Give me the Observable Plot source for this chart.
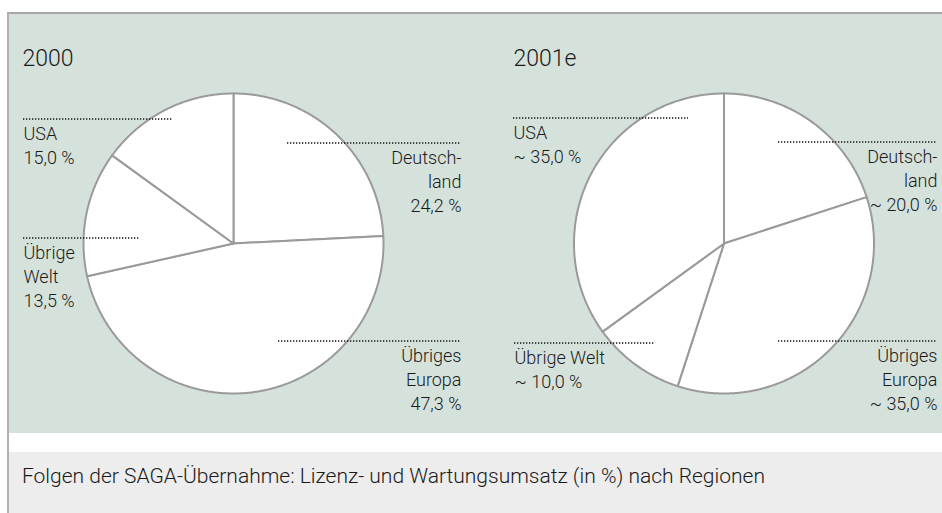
<!DOCTYPE html>
<html><head><meta charset="utf-8">
<script src="https://cdn.jsdelivr.net/npm/d3@7"></script>
<script src="https://cdn.jsdelivr.net/npm/@observablehq/plot@0.6"></script>
<style>
body{margin:0;background:#fff;}
#wrap{position:relative;width:942px;height:513px;overflow:hidden;font-family:Roboto,"Noto Sans",sans-serif;}
#panel{position:absolute;left:9px;top:14px;width:933px;height:419px;background:#d5e2dc;}
#topline{position:absolute;left:7px;top:12px;width:935px;height:2px;background:#a6a6a6;}
#leftline{position:absolute;left:7px;top:12px;width:2px;height:501px;background:#b0b0b0;}
#capbox{position:absolute;left:9px;top:452px;width:933px;height:61px;background:#ededed;}
#caption{position:absolute;left:22px;top:464px;font-size:21px;font-weight:300;line-height:24px;color:#1a1a1a;white-space:nowrap;}
#chart{position:absolute;left:0;top:0;}
</style></head>
<body>
<div id="wrap">
  <div id="panel"></div>
  <div id="topline"></div>
  <div id="leftline"></div>
  <div id="capbox"></div>
  <div id="caption"></div>
  <div id="chart"></div>
</div>
<script>
// ---- data ----
const regions = ["Deutschland", "Übriges Europa", "Übrige Welt", "USA"];
const years = ["2000", "2001e"];
const share2000 = [24.2, 47.3, 13.5, 15.0];
const share2001e = [20.0, 35.0, 10.0, 35.0];
const estimated = [false, true];
const labels2000 = ["Deutsch-\nland", "Übriges\nEuropa", "Übrige\nWelt", "USA"];
const labels2001e = ["Deutsch-\nland", "Übriges\nEuropa", "Übrige Welt", "USA"];
const captionText = "Folgen der SAGA-Übernahme: Lizenz- und Wartungsumsatz (in %) nach Regionen";

// ---- layout (pixels) ----
const W = 942, H = 433, R = 150;
const centers = {"2000": [233, 243], "2001e": [723.5, 243]};
const titlePos = {"2000": [22, 65], "2001e": [513, 65]};
const labelLayout = {
  "2000": [
    {y: 142.5, x0: 287, x1: 461, side: "right"},
    {y: 340.5, x0: 278, x1: 461, side: "right"},
    {y: 237.5, x0: 23, x1: 140, side: "left"},
    {y: 118.5, x0: 23, x1: 172, side: "left"}
  ],
  "2001e": [
    {y: 141.5, x0: 778, x1: 937, side: "right"},
    {y: 340.5, x0: 778, x1: 937, side: "right"},
    {y: 342.5, x0: 514, x1: 654, side: "left"},
    {y: 117.5, x0: 513, x1: 688, side: "left"}
  ]
};
const firstBaseline = 21, lineStep = 24;

// ---- build ----
const shares = {"2000": share2000, "2001e": share2001e};
const labelTexts = {"2000": labels2000, "2001e": labels2001e};
const fmt = v => v.toFixed(1).replace(".", ",") + " %";

const slicePts = [];
const rules = [];
const texts = [];
const titles = [];
years.forEach((yr, yi) => {
  const [cx, cy] = centers[yr];
  const arcs = d3.pie().sort(null).value(d => d)(shares[yr]);
  arcs.forEach((a, i) => {
    const id = yr + "-" + i;
    slicePts.push({id, x: cx, y: cy});
    const n = Math.max(2, Math.ceil((a.endAngle - a.startAngle) / (Math.PI / 360)));
    for (let k = 0; k <= n; k++) {
      const t = a.startAngle + (a.endAngle - a.startAngle) * k / n;
      slicePts.push({id, x: cx + R * Math.sin(t), y: cy - R * Math.cos(t)});
    }
    slicePts.push({id, x: cx, y: cy});
  });
  labelLayout[yr].forEach((L, i) => {
    rules.push({y: L.y, x1: L.x0, x2: L.x1});
    const lines = labelTexts[yr][i].split("\n");
    lines.push((estimated[yi] ? "~ " : "") + fmt(shares[yr][i]));
    lines.forEach((s, j) => {
      texts.push({
        x: L.side === "left" ? L.x0 : L.x1,
        y: L.y + firstBaseline + j * lineStep,
        text: s,
        anchor: L.side === "left" ? "start" : "end"
      });
    });
  });
  titles.push({x: titlePos[yr][0], y: titlePos[yr][1], text: yr});
});

const chart = Plot.plot({
  width: W, height: H,
  margin: 0,
  style: {background: "transparent", fontFamily: "Roboto, 'Noto Sans', sans-serif", color: "#1a1a1a"},
  x: {domain: [0, W], range: [0, W], axis: null},
  y: {domain: [0, H], range: [0, H], axis: null},
  marks: [
    Plot.line(slicePts, {x: "x", y: "y", z: "id", fill: "white", stroke: "#9a9a9a", strokeWidth: 2, strokeLinejoin: "round", curve: "linear"}),
    Plot.ruleY(rules, {y: "y", x1: "x1", x2: "x2", stroke: "#111", strokeWidth: 1.4, strokeDasharray: "1.3,1.7"}),
    Plot.text(texts.filter(d => d.anchor === "start"), {x: "x", y: "y", text: "text", textAnchor: "start", lineAnchor: "bottom", fontSize: 18, fontWeight: 300, fill: "#1a1a1a"}),
    Plot.text(texts.filter(d => d.anchor === "end"), {x: "x", y: "y", text: "text", textAnchor: "end", lineAnchor: "bottom", fontSize: 18, fontWeight: 300, fill: "#1a1a1a"}),
    Plot.text(titles, {x: "x", y: "y", text: "text", textAnchor: "start", lineAnchor: "bottom", fontSize: 23, fontWeight: 300, fill: "#1a1a1a"})
  ]
});
document.getElementById("chart").appendChild(chart);
document.getElementById("caption").textContent = captionText;
</script>
</body></html>
